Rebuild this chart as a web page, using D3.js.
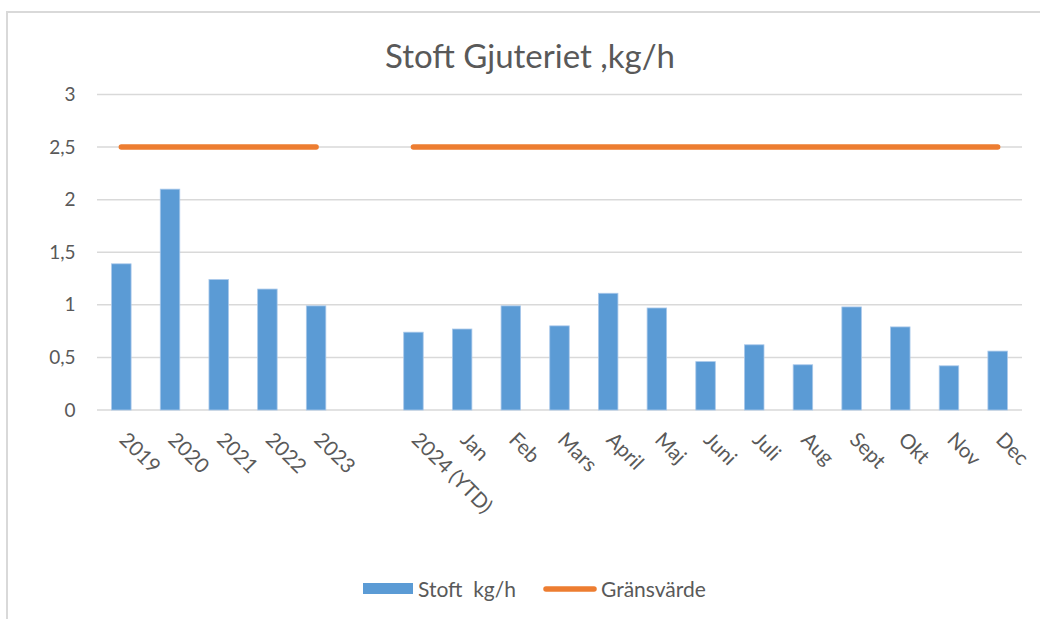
<!DOCTYPE html>
<html>
<head>
<meta charset="utf-8">
<script src="https://cdn.jsdelivr.net/npm/d3@7/dist/d3.min.js"></script>
<style>
  html, body { margin: 0; padding: 0; background: #fff; }
  svg { display: block; }
  text { font-family: Lato, "Open Sans", sans-serif; fill: #595959; }
</style>
</head>
<body>
<svg id="chart" width="1040" height="619"></svg>
<script>
const categories = ["2019", "2020", "2021", "2022", "2023", "", "2024 (YTD)", "Jan", "Feb", "Mars", "April", "Maj", "Juni", "Juli", "Aug", "Sept", "Okt", "Nov", "Dec"];
const stoftValues = [1.39, 2.10, 1.24, 1.15, 0.99, null, 0.74, 0.77, 0.99, 0.80, 1.11, 0.97, 0.46, 0.62, 0.43, 0.98, 0.79, 0.42, 0.56];
const limitValues = [2.5, 2.5, 2.5, 2.5, 2.5, null, 2.5, 2.5, 2.5, 2.5, 2.5, 2.5, 2.5, 2.5, 2.5, 2.5, 2.5, 2.5, 2.5];
const yTicks = [0, 0.5, 1, 1.5, 2, 2.5, 3];
const yTickLabels = ["0", "0,5", "1", "1,5", "2", "2,5", "3"];
const seriesNames = ["Stoft  kg/h", "Gränsvärde"];
const title = "Stoft Gjuteriet ,kg/h";

const svg = d3.select("#chart");
const W = 1040, H = 619;
const plot = { left: 97, right: 1022, top: 94.5, bottom: 410 };
const FONT = "Lato, 'Open Sans', sans-serif";

// outer border
svg.append("rect").attr("x", 7).attr("y", 12).attr("width", W).attr("height", H)
  .attr("fill", "#fff").attr("stroke", "#d9d9d9").attr("stroke-width", 2);

const idx = categories.map((d, i) => i);
const xc = d3.scaleBand().domain(idx).range([plot.left, plot.right]);
const y = d3.scaleLinear().domain([0, 3]).range([plot.bottom, plot.top]);

// gridlines
svg.append("g").selectAll("line").data(yTicks).join("line")
  .attr("x1", plot.left).attr("x2", plot.right)
  .attr("y1", d => y(d)).attr("y2", d => y(d))
  .attr("stroke", "#d9d9d9").attr("stroke-width", 1.5);

// y axis labels
const yAxis = d3.axisLeft(y).tickValues(yTicks).tickFormat((d, i) => yTickLabels[i]).tickSize(0).tickPadding(0);
const gy = svg.append("g").attr("transform", `translate(75.5,0)`).call(yAxis);
gy.select(".domain").remove();
gy.selectAll("text").attr("font-size", 19).attr("fill", "#595959").style("font-family", FONT);

// bars
const bw = 19.5;
svg.append("g").selectAll("rect").data(idx.filter(i => stoftValues[i] != null)).join("rect")
  .attr("x", i => xc(i) + xc.bandwidth() / 2 - bw / 2)
  .attr("width", bw)
  .attr("y", i => y(stoftValues[i]))
  .attr("height", i => y(0) - y(stoftValues[i]))
  .attr("fill", "#5b9bd5").attr("stroke", "#a9c8ea").attr("stroke-width", 0.8);

// limit line
const line = d3.line()
  .defined(i => limitValues[i] != null)
  .x(i => xc(i) + xc.bandwidth() / 2)
  .y(i => y(limitValues[i]));
svg.append("path").datum(idx).attr("d", line)
  .attr("fill", "none").attr("stroke", "#ed7d31").attr("stroke-width", 5.5)
  .attr("stroke-linecap", "round").attr("stroke-linejoin", "round");

// x labels
const xAxis = d3.axisBottom(xc).tickFormat(i => categories[i]).tickSize(0).tickPadding(0);
const gx = svg.append("g").attr("transform", `translate(0,${plot.bottom})`).call(xAxis);
gx.select(".domain").remove();
gx.selectAll("text")
  .attr("font-size", 20.5).attr("fill", "#595959").style("font-family", FONT)
  .attr("text-anchor", "start")
  .attr("dy", 0).attr("y", 0)
  .attr("transform", "translate(-3,31) rotate(45)");

// title
svg.append("text").attr("x", 530).attr("y", 68.3).attr("text-anchor", "middle")
  .attr("font-size", 33).attr("fill", "#595959").style("font-family", FONT).text(title);

// legend
const lg = svg.append("g");
lg.append("rect").attr("x", 363).attr("y", 583).attr("width", 50).attr("height", 11).attr("fill", "#5b9bd5");
lg.append("text").attr("x", 418).attr("y", 597).attr("font-size", 21).attr("xml:space", "preserve")
  .style("white-space", "pre").style("font-family", FONT).text(seriesNames[0]);
lg.append("line").attr("x1", 546).attr("x2", 594).attr("y1", 589).attr("y2", 589)
  .attr("stroke", "#ed7d31").attr("stroke-width", 5.5).attr("stroke-linecap", "round");
lg.append("text").attr("x", 601).attr("y", 597).attr("font-size", 21).style("font-family", FONT).text(seriesNames[1]);
</script>
</body>
</html>
